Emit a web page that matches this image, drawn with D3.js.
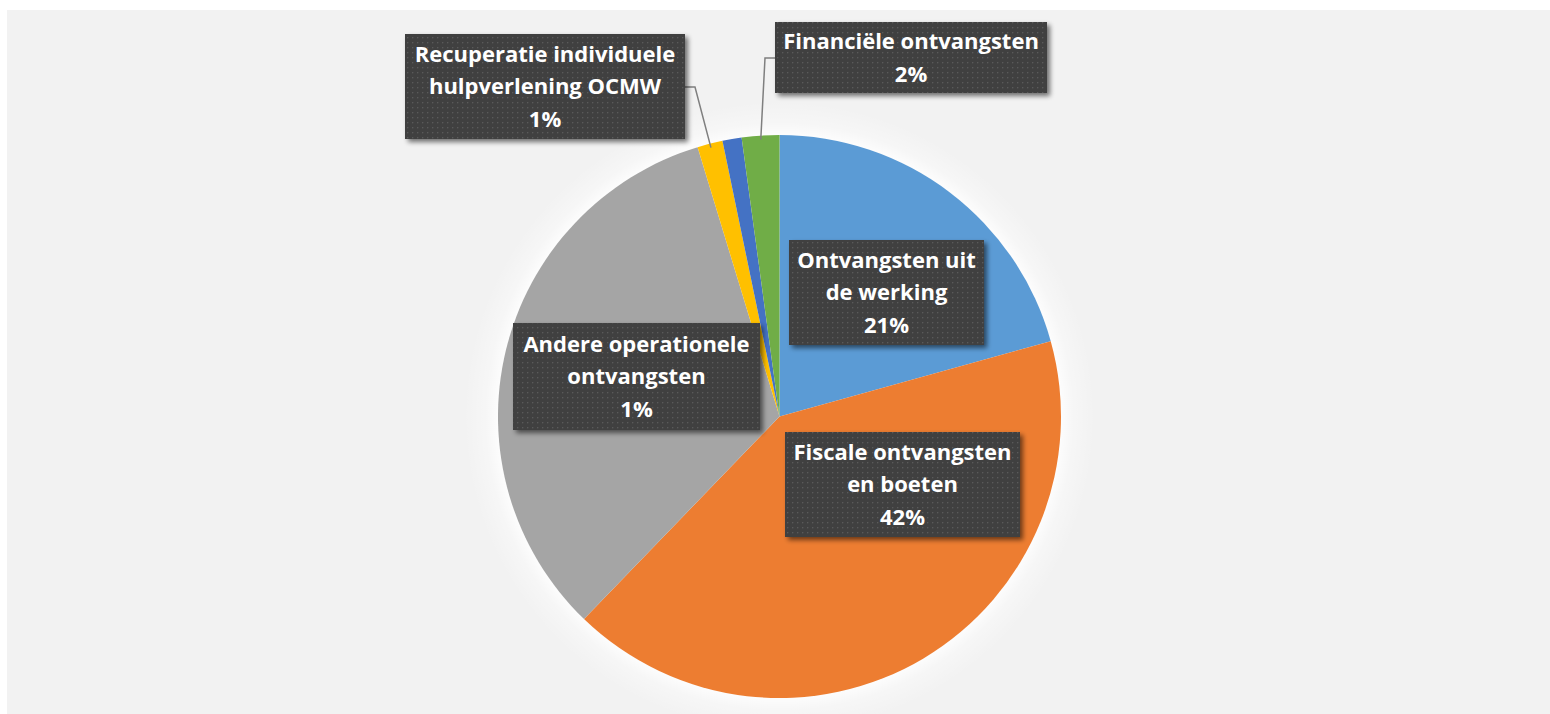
<!DOCTYPE html>
<html>
<head>
<meta charset="utf-8">
<script src="https://cdn.jsdelivr.net/npm/d3@7"></script>
<style>
  html, body { margin: 0; padding: 0; background: #ffffff; }
  svg { display: block; }
</style>
</head>
<body>
<svg id="chart" width="1550" height="714"></svg>
<script>
// ---- data ----
const categories = [
  "Ontvangsten uit de werking",
  "Fiscale ontvangsten en boeten",
  "Werkingssubsidies",
  "Recuperatie individuele hulpverlening OCMW",
  "Andere operationele ontvangsten",
  "Financiële ontvangsten"
];
const values = [20.7, 41.55, 33.1, 1.45, 1.1, 2.15];
const colors = ["#5b9bd5", "#ed7d31", "#a5a5a5", "#ffc000", "#4472c4", "#70ad47"];
// label text lines (percentage appended from values); null = no label shown
const labelLines = [
  ["Ontvangsten uit", "de werking"],
  ["Fiscale ontvangsten", "en boeten"],
  null,
  ["Recuperatie individuele", "hulpverlening OCMW"],
  ["Andere operationele", "ontvangsten"],
  ["Financiële ontvangsten"]
];

// ---- layout (positions of label boxes: left, top, width, height; leader flag) ----
const labelBoxes = [
  {x: 789, y: 240, w: 195, h: 105, leader: false},
  {x: 785, y: 432, w: 235, h: 105, leader: false},
  null,
  {x: 405, y: 34,  w: 280, h: 105, leader: "right"},
  {x: 513, y: 323, w: 247, h: 107, leader: false},
  {x: 775, y: 22,  w: 272, h: 71,  leader: "left"}
];

const W = 1550, H = 714;
const cx = 779.5, cy = 416.5, R = 281.5;

const svg = d3.select("#chart");
const defs = svg.append("defs");

// dotted pattern for label boxes
const pat = defs.append("pattern").attr("id", "dots")
  .attr("width", 5).attr("height", 5).attr("patternUnits", "userSpaceOnUse");
pat.append("rect").attr("width", 5).attr("height", 5).attr("fill", "#404040");
pat.append("rect").attr("x", 2).attr("y", 2).attr("width", 1.3).attr("height", 1.3).attr("fill", "#5a5a5a");

// shadow filter
const f = defs.append("filter").attr("id", "shadow")
  .attr("x", "-10%").attr("y", "-10%").attr("width", "130%").attr("height", "140%");
f.append("feGaussianBlur").attr("in", "SourceAlpha").attr("stdDeviation", 2.5).attr("result", "b");
f.append("feOffset").attr("in", "b").attr("dx", 3).attr("dy", 3).attr("result", "o");
f.append("feComponentTransfer").attr("in", "o").attr("result", "o2")
  .append("feFuncA").attr("type", "linear").attr("slope", 0.55);
const fm = f.append("feMerge");
fm.append("feMergeNode").attr("in", "o2");
fm.append("feMergeNode").attr("in", "SourceGraphic");

// glow gradient around pie
const glowR = R + 34;
const rg = defs.append("radialGradient").attr("id", "glow")
  .attr("gradientUnits", "userSpaceOnUse")
  .attr("cx", cx).attr("cy", cy).attr("r", glowR);
rg.append("stop").attr("offset", (R - 2) / glowR).attr("stop-color", "#ffffff").attr("stop-opacity", 0.9);
rg.append("stop").attr("offset", (R + 12) / glowR).attr("stop-color", "#ffffff").attr("stop-opacity", 0.35);
rg.append("stop").attr("offset", 1).attr("stop-color", "#ffffff").attr("stop-opacity", 0);

// panel background
svg.append("rect").attr("x", 7).attr("y", 10).attr("width", W - 7).attr("height", H - 10)
  .attr("fill", "#f2f2f2");

svg.append("circle").attr("cx", cx).attr("cy", cy).attr("r", glowR).attr("fill", "url(#glow)");

// pie
const data = categories.map((c, i) => ({name: c, value: values[i], i}));
const pie = d3.pie().sort(null).value(d => d.value).startAngle(0).endAngle(2 * Math.PI);
const arcs = pie(data);
const arc = d3.arc().innerRadius(0).outerRadius(R);
const total = d3.sum(values);
const pct = d3.format(".0%");

const g = svg.append("g").attr("transform", `translate(${cx},${cy})`);
g.selectAll("path.slice").data(arcs).join("path")
  .attr("class", "slice")
  .attr("d", arc)
  .attr("fill", d => colors[d.data.i]);

// leader lines
const edgeArc = d3.arc().innerRadius(R - 4).outerRadius(R - 4);
arcs.forEach(a => {
  const box = labelBoxes[a.data.i];
  if (!box || !box.leader) return;
  const [px, py] = edgeArc.centroid(a);
  const ex = cx + px, ey = cy + py;
  const ly = box.y + box.h / 2 + 0.5;
  let pts;
  if (box.leader === "right") {
    const bx = box.x + box.w;
    pts = [[bx, ly], [bx + 10, ly], [ex, ey]];
  } else {
    const bx = box.x;
    pts = [[bx, ly], [bx - 10, ly], [ex, ey]];
  }
  svg.append("path")
    .attr("d", d3.line()(pts))
    .attr("fill", "none")
    .attr("stroke", "#7f7f7f")
    .attr("stroke-width", 1.5);
});

// labels
const lineH = 32.5;
arcs.forEach(a => {
  const i = a.data.i;
  const box = labelBoxes[i];
  if (!box || !labelLines[i]) return;
  const lines = labelLines[i].concat([pct(a.data.value / total)]);
  const lg = svg.append("g");
  lg.append("rect")
    .attr("x", box.x).attr("y", box.y).attr("width", box.w).attr("height", box.h)
    .attr("fill", "url(#dots)")
    .attr("filter", "url(#shadow)");
  const midY = box.y + box.h / 2;
  const firstBase = midY - (lines.length - 1) * lineH / 2 + 7.8;
  lines.forEach((t, k) => {
    lg.append("text")
      .attr("x", box.x + box.w / 2)
      .attr("y", firstBase + k * lineH)
      .attr("text-anchor", "middle")
      .attr("font-family", "'Open Sans', Lato, sans-serif")
      .attr("font-weight", "bold")
      .attr("font-size", 22)
      .attr("fill", "#ffffff")
      .text(t);
  });
});
</script>
</body>
</html>
